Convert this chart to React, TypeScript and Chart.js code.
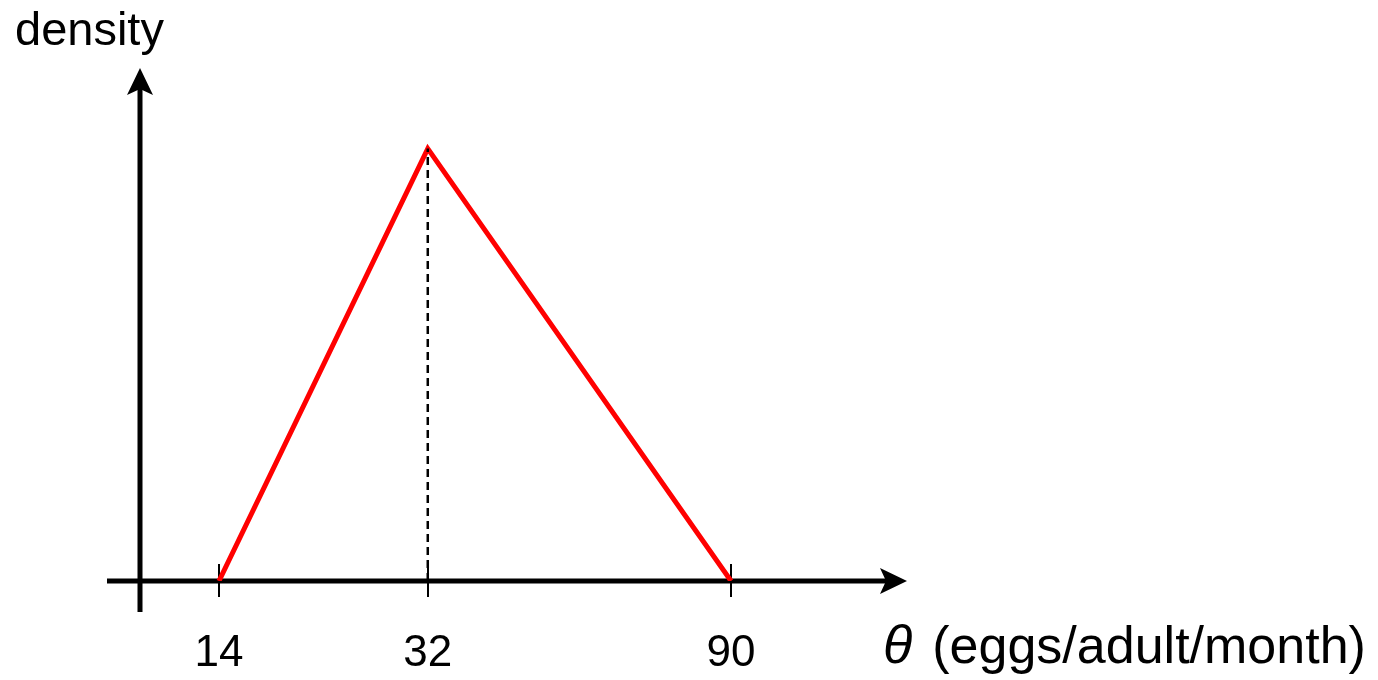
import React, { useEffect, useRef } from 'react';
import { Chart, registerables, LinearScale } from 'chart.js';

// ---- data ----
const thetaTicks = [14, 32, 90];
const thetaPoints = [14, 32, 90];
const densityPoints = [0, 0.0263, 0];
const modeTheta = [32, 32];
const modeDensity = [0, 0.0263];
const yLabel = 'density';
const xSymbol = 'θ';
const xUnit = '(eggs/adult/month)';

const FONT = 'Arial, "Liberation Sans", Helvetica, sans-serif';
const EXP = 0.16;

class PowerScale extends LinearScale {
  static id = 'power';
  static defaults = LinearScale.defaults;
  _tf(v: number) {
    return Math.pow(v, EXP);
  }
  getPixelForValue(value: number) {
    const a = this._tf(this.min);
    const b = this._tf(this.max);
    return this.getPixelForDecimal((this._tf(value) - a) / (b - a));
  }
  getValueForPixel(pixel: number) {
    const a = this._tf(this.min);
    const b = this._tf(this.max);
    const d = this.getDecimalForPixel(pixel);
    return Math.pow(a + d * (b - a), 1 / EXP);
  }
}

Chart.register(...registerables, PowerScale);

const diagramPlugin = {
  id: 'diagram',
  beforeDatasetsDraw(chart: any) {
    const { ctx, chartArea: ca, scales } = chart;
    const xs = scales.x;
    const ys = scales.y;
    const ox = xs.getPixelForValue(xs.min);
    const oy = ys.getPixelForValue(0);
    ctx.save();
    ctx.strokeStyle = '#000';
    ctx.fillStyle = '#000';
    ctx.lineWidth = 5;
    ctx.lineCap = 'butt';
    // y axis
    ctx.beginPath();
    ctx.moveTo(ox, oy + 31);
    ctx.lineTo(ox, ca.top + 20);
    ctx.stroke();
    ctx.beginPath();
    ctx.moveTo(ox, ca.top);
    ctx.lineTo(ox + 13, ca.top + 27);
    ctx.lineTo(ox, ca.top + 21);
    ctx.lineTo(ox - 13, ca.top + 27);
    ctx.closePath();
    ctx.fill();
    // x axis
    ctx.beginPath();
    ctx.moveTo(ox - 33, oy);
    ctx.lineTo(ca.right - 20, oy);
    ctx.stroke();
    ctx.beginPath();
    ctx.moveTo(ca.right, oy);
    ctx.lineTo(ca.right - 27, oy - 13);
    ctx.lineTo(ca.right - 21, oy);
    ctx.lineTo(ca.right - 27, oy + 13);
    ctx.closePath();
    ctx.fill();
    // tick marks
    ctx.lineWidth = 2;
    for (const t of xs.ticks) {
      const px = Math.round(xs.getPixelForValue(t.value));
      ctx.beginPath();
      ctx.moveTo(px, oy - 17);
      ctx.lineTo(px, oy + 16);
      ctx.stroke();
    }
    ctx.restore();
  },
  afterDraw(chart: any) {
    const { ctx, chartArea: ca, scales } = chart;
    const oy = scales.y.getPixelForValue(0);
    ctx.save();
    ctx.fillStyle = '#000';
    ctx.textBaseline = 'alphabetic';
    ctx.textAlign = 'left';
    ctx.font = `47px ${FONT}`;
    ctx.fillText(yLabel, ca.left - 125, ca.top - 23);
    ctx.font = `italic 54px ${FONT}`;
    const tx = ca.right - 24;
    const ty = oy + 82;
    ctx.fillText(xSymbol, tx, ty);
    const w = ctx.measureText(xSymbol).width;
    ctx.font = `52px ${FONT}`;
    ctx.fillText(xUnit, tx + w + 20, ty);
    ctx.restore();
  },
};

export default function App() {
  const ref = useRef<HTMLCanvasElement | null>(null);
  useEffect(() => {
    if (!ref.current) return;
    const chart = new Chart(ref.current, {
      type: 'line',
      data: {
        datasets: [
          {
            data: modeTheta.map((x, i) => ({ x, y: modeDensity[i] })),
            borderColor: '#000',
            borderWidth: 2.5,
            borderDash: [8, 5],
            pointRadius: 0,
            fill: false,
            order: 0,
          },
          {
            data: thetaPoints.map((x, i) => ({ x, y: densityPoints[i] })),
            borderColor: '#ff0000',
            borderWidth: 5,
            pointRadius: 0,
            fill: false,
            tension: 0,
            order: 1,
          },
        ],
      },
      options: {
        responsive: false,
        animation: false,
        devicePixelRatio: 1,
        layout: { padding: { left: 140, right: 471, top: 68, bottom: 0 } },
        plugins: {
          legend: { display: false },
          tooltip: { enabled: false },
          title: { display: false },
        },
        scales: {
          x: {
            type: 'power' as any,
            min: 9.93,
            max: 152.9,
            bounds: 'data',
            position: 'bottom',
            grid: { display: false, drawTicks: false },
            border: { display: false },
            afterBuildTicks: (s: any) => {
              s.ticks = thetaTicks.map((v) => ({ value: v }));
            },
            afterFit: (s: any) => {
              s.height = 99;
            },
            ticks: {
              autoSkip: false,
              maxRotation: 0,
              padding: 46,
              color: '#000',
              font: { family: FONT, size: 44 },
              callback: (v: any) => String(v),
            },
          },
          y: {
            display: false,
            min: 0,
            max: 0.0312,
          },
        },
      },
      plugins: [diagramPlugin],
    } as any);
    return () => chart.destroy();
  }, []);
  return (
    <div style={{ position: 'fixed', left: 0, top: 0, width: 1378, height: 680, background: '#fff' }}>
      <canvas ref={ref} width={1378} height={680} style={{ display: 'block' }} />
    </div>
  );
}
